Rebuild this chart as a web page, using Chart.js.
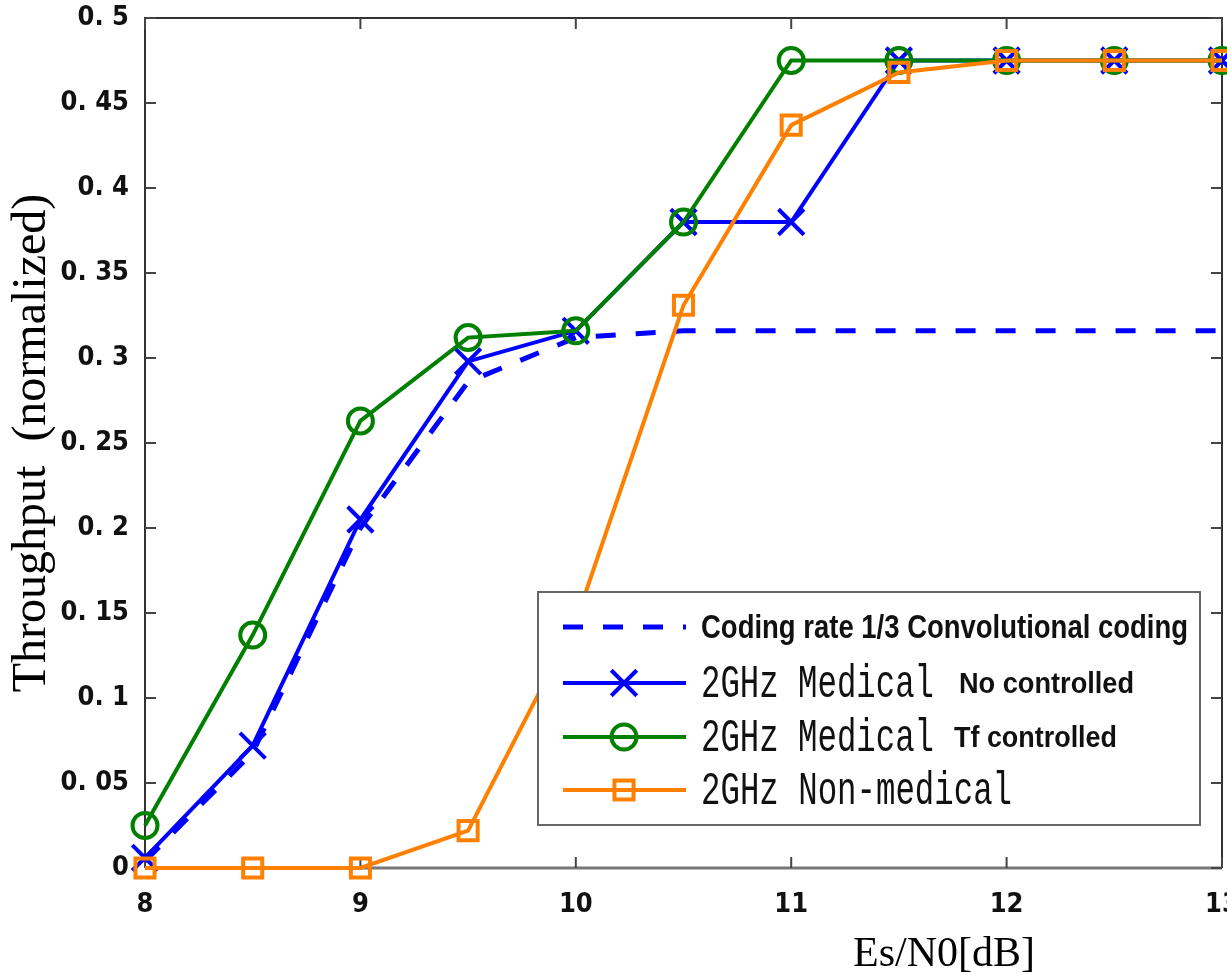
<!DOCTYPE html>
<html>
<head>
<meta charset="utf-8">
<script src="https://cdn.jsdelivr.net/npm/chart.js@4/dist/chart.umd.min.js"></script>
<style>
  html, body { margin: 0; padding: 0; background: #fff; overflow: hidden; }
  #wrap { position: relative; width: 1227px; height: 973px; overflow: hidden; }
  #myChart { position: absolute; left: 0; top: -4px; }
</style>
</head>
<body>
<div id="wrap"><canvas id="myChart" width="1244" height="977"></canvas></div>
<script>
// x values (Es/N0 in dB) and the four series
const xValues = [8, 8.5, 9, 9.5, 10, 10.5, 11, 11.5, 12, 12.5, 13];
const convCoding    = [0.004, 0.068, 0.200, 0.286, 0.312, 0.316, 0.316, 0.316, 0.316, 0.316, 0.316];
const medicalNoCtrl = [0.006, 0.072, 0.205, 0.298, 0.316, 0.380, 0.380, 0.475, 0.475, 0.475, 0.475];
const medicalTfCtrl = [0.025, 0.137, 0.263, 0.312, 0.316, 0.380, 0.475, 0.475, 0.475, 0.475, 0.475];
const nonMedical    = [0, 0, 0, 0.022, 0.145, 0.331, 0.437, 0.468, 0.475, 0.475, 0.475];

const xTickLabels = ['8', '9', '10', '11', '12', '13'];
const yTickLabels = ['0', '0. 05', '0. 1', '0. 15', '0. 2', '0. 25', '0. 3', '0. 35', '0. 4', '0. 45', '0. 5'];

const legendMain = ['Coding rate 1/3 Convolutional coding', '2GHz Medical', '2GHz Medical', '2GHz Non-medical'];
const legendNote = ['', 'No controlled', 'Tf controlled', ''];

const xTitle = 'Es/N0[dB]';
const yTitle = 'Throughput  (normalized)';

function toPoints(ys) {
  return ys.map((y, i) => ({ x: xValues[i], y: y }));
}

const BLUE = '#0000ff';
const GREEN = '#008000';
const ORANGE = '#ff8000';
const TICK_FONT = '"DejaVu Sans Condensed", "DejaVu Sans", sans-serif';
const OFF = 4; // canvas sits 4px above the page top

// frame + inward ticks like matlab
const framePlugin = {
  id: 'frame',
  beforeDatasetsDraw(chart) {
    const ctx = chart.ctx;
    const a = chart.chartArea;
    const xs = chart.scales.x, ys = chart.scales.y;
    ctx.save();
    ctx.strokeStyle = '#333';
    ctx.lineWidth = 2;
    ctx.beginPath();
    ctx.moveTo(a.left, a.bottom);
    ctx.lineTo(a.left, a.top);
    ctx.lineTo(a.right, a.top);
    ctx.lineTo(a.right, a.bottom);
    ctx.stroke();
    ctx.strokeStyle = '#777';
    ctx.lineWidth = 3;
    ctx.beginPath();
    ctx.moveTo(a.left, a.bottom);
    ctx.lineTo(a.right, a.bottom);
    ctx.stroke();

    ctx.strokeStyle = '#444';
    ctx.lineWidth = 2;
    const len = 11;
    ctx.beginPath();
    xs.ticks.forEach(t => {
      const px = xs.getPixelForValue(t.value);
      ctx.moveTo(px, a.bottom); ctx.lineTo(px, a.bottom - len);
      ctx.moveTo(px, a.top); ctx.lineTo(px, a.top + len);
    });
    ys.ticks.forEach(t => {
      const py = ys.getPixelForValue(t.value);
      ctx.moveTo(a.left, py); ctx.lineTo(a.left + len, py);
      ctx.moveTo(a.right, py); ctx.lineTo(a.right - len, py);
    });
    ctx.stroke();
    ctx.restore();
  }
};

// squeeze text horizontally into a given width
function fitText(ctx, text, x, y, font, width) {
  ctx.save();
  ctx.font = font;
  const w = ctx.measureText(text).width;
  ctx.translate(x, y);
  ctx.scale(width / w, 1);
  ctx.fillText(text, 0, 0);
  ctx.restore();
}

// legend box drawn in the chart area, mixed fonts per row
const legendPlugin = {
  id: 'boxLegend',
  afterDatasetsDraw(chart) {
    const ctx = chart.ctx;
    ctx.save();
    ctx.translate(0, OFF);
    ctx.fillStyle = '#fff';
    ctx.fillRect(538, 592, 662, 233);
    ctx.strokeStyle = '#666';
    ctx.lineWidth = 2;
    ctx.strokeRect(538, 592, 662, 233);

    const rows = [627, 683, 737, 790];
    const mainFonts = ['bold 33px "Liberation Sans"', '46px "Liberation Mono"', '46px "Liberation Mono"', '46px "Liberation Mono"'];
    const mainWidths = [487, 233, 233, 311];
    const noteX = [0, 959, 954, 0];
    const noteWidths = [0, 175, 163, 0];

    chart.data.datasets.forEach((ds, i) => {
      const y = rows[i];
      ctx.save();
      ctx.strokeStyle = ds.borderColor;
      ctx.lineWidth = ds.borderWidth;
      ctx.setLineDash(ds.borderDash || []);
      ctx.beginPath();
      ctx.moveTo(563, y);
      ctx.lineTo(686, y);
      ctx.stroke();
      ctx.restore();
      if (ds.pointRadius > 0) {
        ctx.save();
        ctx.strokeStyle = ds.borderColor;
        ctx.fillStyle = 'rgba(0,0,0,0)';
        ctx.lineWidth = ds.pointBorderWidth;
        Chart.helpers.drawPoint(ctx, { pointStyle: ds.pointStyle, radius: ds.pointRadius, rotation: 0, borderWidth: ds.pointBorderWidth }, 624, y);
        ctx.restore();
      }
      ctx.fillStyle = '#111';
      ctx.textBaseline = 'middle';
      ctx.textAlign = 'left';
      fitText(ctx, legendMain[i], 701, y + 2, mainFonts[i], mainWidths[i]);
      if (legendNote[i]) {
        fitText(ctx, legendNote[i], noteX[i], y + 2, 'bold 30px "Liberation Sans"', noteWidths[i]);
      }
    });
    ctx.restore();
  }
};

// x axis title sits off-centre in the original
const xTitlePlugin = {
  id: 'xTitle',
  afterDraw(chart) {
    const ctx = chart.ctx;
    ctx.save();
    ctx.font = '42px "Liberation Serif"';
    ctx.fillStyle = '#000';
    ctx.textAlign = 'center';
    ctx.textBaseline = 'alphabetic';
    ctx.fillText(xTitle, 944, 966 + OFF);
    ctx.restore();
  }
};

const ctx = document.getElementById('myChart');
const myChart = new Chart(ctx, {
  type: 'line',
  data: {
    datasets: [{
      label: legendMain[0],
      data: toPoints(convCoding),
      borderColor: BLUE,
      borderWidth: 5,
      borderDash: [20, 20],
      pointRadius: 0,
      pointBorderWidth: 0,
      order: 3
    }, {
      label: legendMain[1] + ' ' + legendNote[1],
      data: toPoints(medicalNoCtrl),
      borderColor: BLUE,
      borderWidth: 4,
      pointStyle: 'crossRot',
      pointRadius: 18,
      pointBorderWidth: 4,
      pointBorderColor: BLUE,
      pointBackgroundColor: 'rgba(0,0,0,0)',
      order: 2
    }, {
      label: legendMain[2] + ' ' + legendNote[2],
      data: toPoints(medicalTfCtrl),
      borderColor: GREEN,
      borderWidth: 4,
      pointStyle: 'circle',
      pointRadius: 12.5,
      pointBorderWidth: 4,
      pointBorderColor: GREEN,
      pointBackgroundColor: 'rgba(0,0,0,0)',
      order: 1
    }, {
      label: legendMain[3],
      data: toPoints(nonMedical),
      borderColor: ORANGE,
      borderWidth: 4,
      pointStyle: 'rect',
      pointRadius: 13.5,
      pointBorderWidth: 4,
      pointBorderColor: ORANGE,
      pointBackgroundColor: 'rgba(0,0,0,0)',
      order: 0
    }]
  },
  options: {
    responsive: false,
    animation: false,
    devicePixelRatio: 1,
    clip: false,
    layout: { padding: { top: 13, right: 5, left: 0, bottom: 0 } },
    plugins: {
      legend: { display: false },
      tooltip: { enabled: false }
    },
    elements: { line: { tension: 0 } },
    scales: {
      x: {
        type: 'linear',
        min: 8,
        max: 13,
        ticks: {
          stepSize: 1,
          autoSkip: false,
          maxRotation: 0,
          padding: 21,
          color: '#111',
          font: { family: TICK_FONT, size: 27, weight: 'bold' },
          callback: (v, i) => xTickLabels[i]
        },
        grid: { display: false, drawTicks: false },
        border: { display: false },
        afterFit(scale) {
          scale.height = 105;
          scale.paddingLeft = 0;
          scale.paddingRight = 0;
        }
      },
      y: {
        min: 0,
        max: 0.5,
        ticks: {
          stepSize: 0.05,
          autoSkip: false,
          padding: 16,
          color: '#111',
          font: { family: TICK_FONT, size: 27, weight: 'bold' },
          callback: (v, i) => yTickLabels[i]
        },
        grid: { display: false, drawTicks: false },
        border: { display: false },
        title: {
          display: true,
          text: yTitle,
          color: '#000',
          font: { family: '"Liberation Serif"', size: 48 },
          padding: { top: 4, bottom: 0 }
        },
        afterFit(scale) {
          scale.width = 145;
          scale.paddingTop = 0;
          scale.paddingBottom = 0;
        }
      }
    }
  },
  plugins: [framePlugin, legendPlugin, xTitlePlugin]
});
</script>
</body>
</html>
